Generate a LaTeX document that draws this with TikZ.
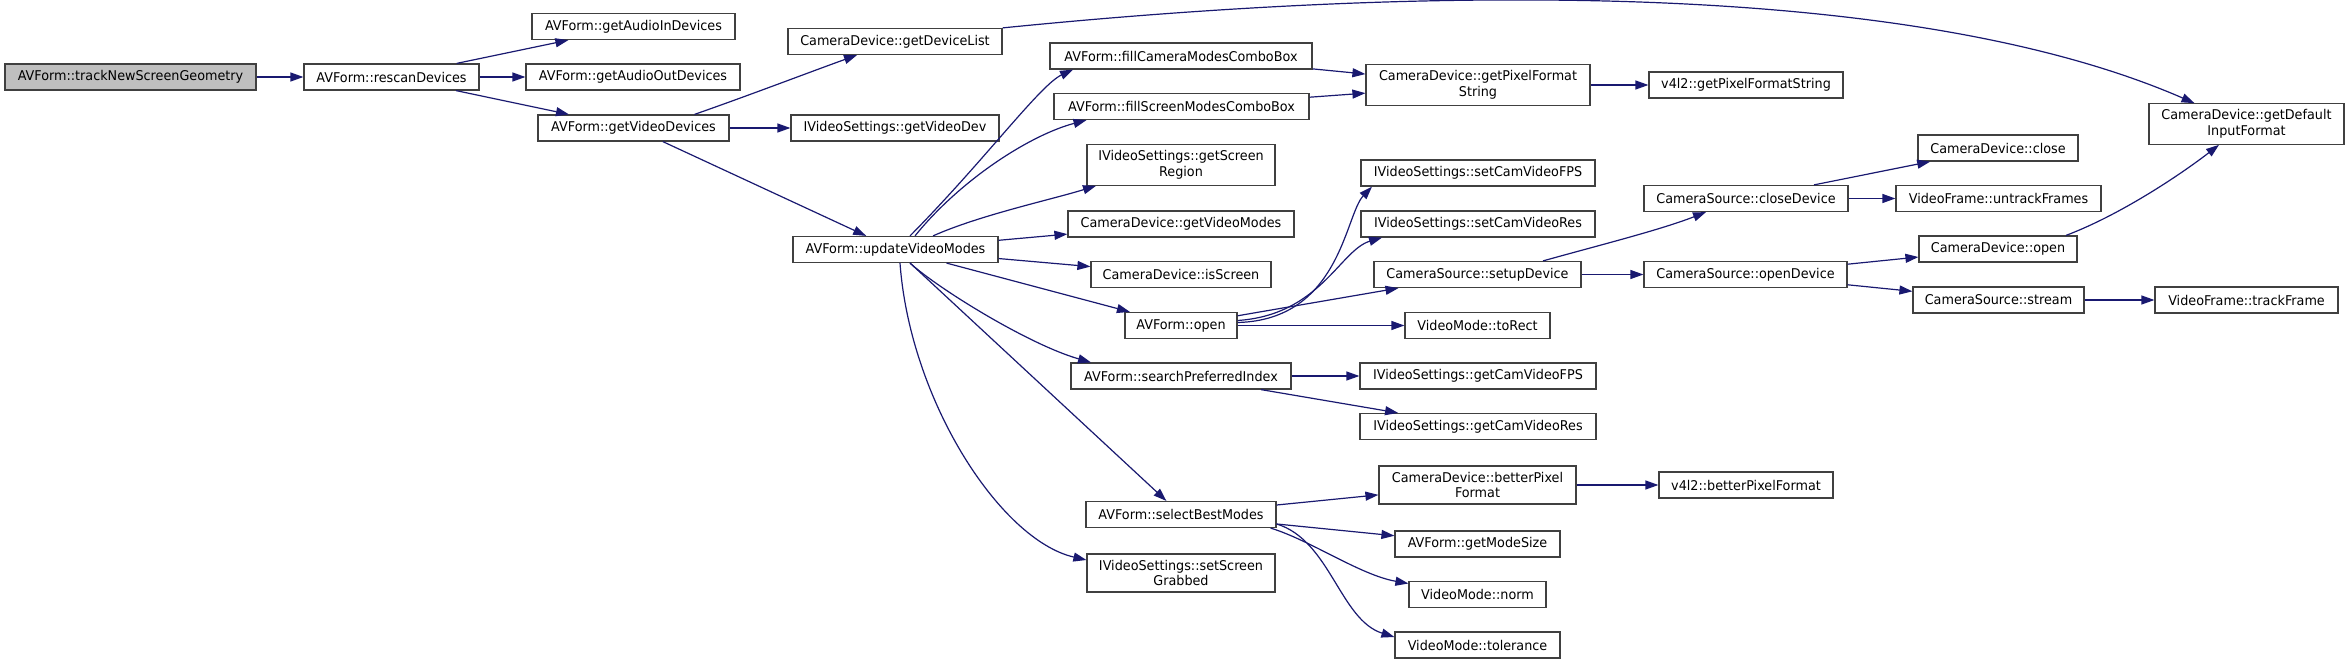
\documentclass[tikz,border=0pt]{standalone}
\usepackage{fontspec}
\setmainfont{DejaVu Sans}[FakeStretch=0.95]
\usepackage{tikz}
\usetikzlibrary{arrows.meta}
\definecolor{edgeblue}{HTML}{191970}
\definecolor{boxline}{HTML}{404040}

\begin{document}
\begin{tikzpicture}[x=1bp,y=-1bp,
		fn/.style={draw=boxline,line width=1.2bp,fill=white,align=center,inner xsep=2bp,inner ysep=6bp,minimum height=26bp,font=\fontsize{13.5}{15.5}\selectfont},
		call/.style={draw=edgeblue,line width=1.2bp,-{Triangle[length=13bp,width=9bp]}}]
			\useasboundingbox (0,0) rectangle (2349,664);
			\node[fn,fill=gray!50,minimum width=251bp] (track) at (130.5,77) {AVForm::trackNewScreenGeometry};
			\foreach \nm/\cx/\cy/\w/\txt in {
				rescan/391.5/77/175/{AVForm::rescanDevices},
				audioIn/633.5/26.5/203/{AVForm::getAudioInDevices},
				audioOut/633/77/214/{AVForm::getAudioOutDevices},
				videoDevs/633.5/128/191/{AVForm::getVideoDevices},
				deviceList/895/41.5/214/{CameraDevice::getDeviceList},
				videoDev/895/128/208/{IVideoSettings::getVideoDev},
				updateModes/895.5/249.5/205/{AVForm::updateVideoModes},
				fillCamera/1181/56/262/{AVForm::fillCameraModesComboBox},
				fillScreen/1181.5/106.5/255/{AVForm::fillScreenModesComboBox},
				screenRegion/1181/165/188/{IVideoSettings::getScreen\\Region},
				videoModes/1181/224/226/{CameraDevice::getVideoModes},
				isScreen/1181/274.5/180/{CameraDevice::isScreen},
				open/1181/325.5/112/{AVForm::open},
				searchIdx/1181/376/220/{AVForm::searchPreferredIndex},
				selectBest/1181/514.5/190/{AVForm::selectBestModes},
				screenGrabbed/1181/573/188/{IVideoSettings::setScreen\\Grabbed},
				pixFmtStr/1478/85/224/{CameraDevice::getPixelFormat\\String},
				setFPS/1478/173/234/{IVideoSettings::setCamVideoFPS},
				setRes/1478/224/234/{IVideoSettings::setCamVideoRes},
				setupDevice/1477.5/274.5/207/{CameraSource::setupDevice},
				toRect/1477.5/325.5/145/{VideoMode::toRect},
				getFPS/1478/376/236/{IVideoSettings::getCamVideoFPS},
				getRes/1478/426.5/236/{IVideoSettings::getCamVideoRes},
				betterPix/1477.5/485/197/{CameraDevice::betterPixel\\Format},
				modeSize/1477.5/544/165/{AVForm::getModeSize},
				norm/1477.5/594.5/137/{VideoMode::norm},
				tolerance/1477.5/645/165/{VideoMode::tolerance},
				v4l2PixStr/1746/85/194/{v4l2::getPixelFormatString},
				closeDevice/1746/198.5/204/{CameraSource::closeDevice},
				openDevice/1745.5/274.5/203/{CameraSource::openDevice},
				v4l2Better/1746/485/174/{v4l2::betterPixelFormat},
				camClose/1998/148/160/{CameraDevice::close},
				untrack/1998.5/198.5/205/{VideoFrame::untrackFrames},
				camOpen/1998/249/158/{CameraDevice::open},
				stream/1998.5/300/171/{CameraSource::stream},
				trackFrame/2246.5/300/183/{VideoFrame::trackFrame},
				defaultFmt/2246.5/124/195/{CameraDevice::getDefault\\InputFormat}}
				\node[fn,minimum width=\w bp] (\nm) at (\cx,\cy) {\txt};
			\foreach \a/\b in {track/rescan,rescan/audioIn,rescan/audioOut,rescan/videoDevs,
				videoDevs/videoDev,videoDevs/updateModes,updateModes/videoModes,updateModes/isScreen,
				updateModes/open,updateModes/selectBest,fillCamera/pixFmtStr,fillScreen/pixFmtStr,
				pixFmtStr/v4l2PixStr,open/setupDevice,open/toRect,setupDevice/openDevice,
				closeDevice/camClose,closeDevice/untrack,openDevice/camOpen,openDevice/stream,
				stream/trackFrame,searchIdx/getFPS,searchIdx/getRes,betterPix/v4l2Better,
				selectBest/betterPix,selectBest/modeSize}
				\draw[call] (\a) -- (\b);
			\draw[call] ([xshift=61bp]videoDevs.north) .. controls (750,95) and (810,72) .. ([xshift=-38bp]deviceList.south);
			\draw[call] (deviceList.north east) .. controls (1400,-12) and (1900,-25) .. ([xshift=-52bp]defaultFmt.north);
			\draw[call] ([xshift=14.5bp]updateModes.north) .. controls (985,160) and (1040,85) .. ([xshift=-108bp]fillCamera.south);
			\draw[call] ([xshift=19.5bp]updateModes.north) .. controls (960,180) and (1030,135) .. ([xshift=-95bp]fillScreen.south);
			\draw[call] ([xshift=37.5bp]updateModes.north) .. controls (980,215) and (1050,200) .. ([xshift=-85bp]screenRegion.south);
			\draw[call] ([xshift=14.5bp]updateModes.south) .. controls (940,290) and (1030,345) .. ([xshift=-90bp]searchIdx.north);
			\draw[call] ([xshift=4.5bp]updateModes.south) .. controls (910,400) and (1000,540) .. ([yshift=13bp]screenGrabbed.west);
			\draw[call] ([yshift=3bp]open.east) .. controls (1340,320) and (1345,215) .. ([xshift=-106bp]setFPS.south);
			\draw[call] ([yshift=5bp]open.east) .. controls (1320,315) and (1340,250) .. ([xshift=-96bp]setRes.south);
			\draw[call] ([xshift=65.5bp]setupDevice.north) .. controls (1600,245) and (1660,230) .. ([xshift=-40bp]closeDevice.south);
			\draw[call] ([xshift=68bp]camOpen.north) .. controls (2120,215) and (2180,175) .. ([xshift=-27.5bp]defaultFmt.south);
			\draw[call] ([xshift=-6bp]selectBest.south east) .. controls (1310,540) and (1360,575) .. ([yshift=11bp]norm.west);
			\draw[call] ([yshift=-9.5bp]selectBest.east) .. controls (1330,540) and (1340,620) .. ([yshift=8bp]tolerance.west);
		\end{tikzpicture}
\end{document}
